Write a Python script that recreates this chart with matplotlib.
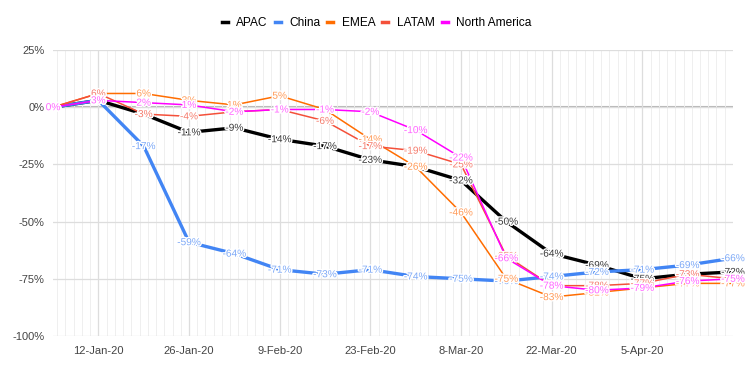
import pandas as pd
import matplotlib.pyplot as plt
import matplotlib.dates as mdates
import matplotlib.patheffects as pe
from matplotlib.ticker import AutoMinorLocator, FuncFormatter, MultipleLocator
from matplotlib.lines import Line2D

plt.rcParams['font.family'] = ['Liberation Sans', 'DejaVu Sans']

weeks = ["2020-01-05", "2020-01-12", "2020-01-19", "2020-01-26", "2020-02-02",
         "2020-02-09", "2020-02-16", "2020-02-23", "2020-03-01", "2020-03-08",
         "2020-03-15", "2020-03-22", "2020-03-29", "2020-04-05", "2020-04-12",
         "2020-04-19"]
tick_weeks = ["2020-01-12", "2020-01-26", "2020-02-09", "2020-02-23",
              "2020-03-08", "2020-03-22", "2020-04-05"]

apac = [0, 3, -3, -11, -9, -14, -17, -23, -26, -32, -50, -64, -69, -75, -73, -72]
china = [0, 3, -17, -59, -64, -71, -73, -71, -74, -75, -76, -74, -72, -71, -69, -66]
emea = [0, 6, 6, 3, 1, 5, -1, -14, -26, -46, -75, -83, -81, -79, -77, -77]
latam = [0, 6, -3, -4, -2, -1, -6, -17, -19, -25, -65, -78, -78, -77, -73, -75]
north_america = [0, 3, 2, 1, -2, -1, -1, -2, -10, -22, -66, -78, -80, -79, -76, -75]

series = [
    ("APAC", apac, "#000000", "#3a3a3a", 2.4),
    ("China", china, "#4285f4", "#7faaf7", 2.4),
    ("EMEA", emea, "#ff6d01", "#ff9c5a", 1.1),
    ("LATAM", latam, "#f4503a", "#f57d6e", 1.1),
    ("North America", north_america, "#ff00ff", "#ff66ff", 1.1),
]

dates = pd.to_datetime(weeks)

fig = plt.figure(figsize=(7.53, 3.74), dpi=100)
ax = fig.add_axes([0.0704, 0.1016, 0.9030, 0.7647])

for name, vals, color, label_color, lw in series:
    ax.plot(dates, vals, color=color, lw=lw, solid_joinstyle='round', zorder=3)

# data labels, drawn after all lines so they sit on top
halo = [pe.withStroke(linewidth=2, foreground='white')]
for name, vals, color, label_color, lw in series:
    for d, v in zip(dates, vals):
        ax.text(d, v, f"{v}%", color=label_color, fontsize=7.3,
                ha='center', va='center', zorder=4, path_effects=halo)

ax.set_xlim(dates[0], dates[-1])
ax.set_ylim(-100, 25)

ax.yaxis.set_major_locator(MultipleLocator(25))
ax.yaxis.set_major_formatter(FuncFormatter(lambda v, p: f"{int(v)}%"))

ax.set_xticks(pd.to_datetime(tick_weeks))
ax.xaxis.set_major_formatter(FuncFormatter(
    lambda v, p: (lambda d: f"{d.day}-{d:%b-%y}")(mdates.num2date(v))))
ax.xaxis.set_minor_locator(AutoMinorLocator(11))

ax.grid(True, which='major', color='#dddddd', lw=0.9, zorder=0)
ax.grid(True, which='minor', axis='x', color='#efefef', lw=0.7, zorder=0)
ax.axhline(0, color='#b7b7b7', lw=1.5, zorder=1)

for s in ax.spines.values():
    s.set_visible(False)
ax.tick_params(which='both', length=0, labelsize=8, colors='#444444', pad=6)
ax.tick_params(axis='x', pad=7)

handles = [Line2D([0], [0], color=c, lw=2.5) for _, _, c, _, _ in series]
fig.legend(handles, [n for n, *_ in series], loc='center', ncol=5,
           bbox_to_anchor=(0.5, 0.938), frameon=False, fontsize=8.6,
           handlelength=0.5, handletextpad=0.7, columnspacing=0.6)

fig.savefig("out.png", dpi=100, facecolor='white')
